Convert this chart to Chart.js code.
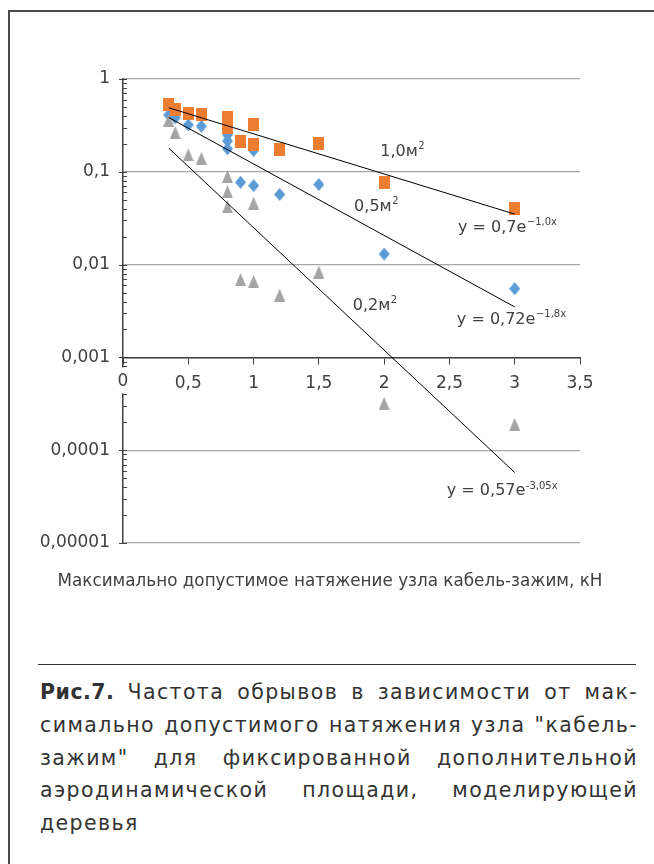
<!DOCTYPE html>
<html><head><meta charset="utf-8">
<script src="https://cdn.jsdelivr.net/npm/chart.js@4.4.1/dist/chart.umd.min.js"></script>
<style>
html,body{margin:0;padding:0;background:#fff;}
body{width:654px;height:864px;position:relative;overflow:hidden;font-family:"DejaVu Sans",sans-serif;}
#frame{position:absolute;left:8px;top:10px;right:-5px;bottom:-5px;border-left:2px solid #4a4a4a;border-top:2px solid #4a4a4a;}
#c{position:absolute;left:0;top:0;}
#xtitle{position:absolute;top:570px;left:0;width:660px;text-align:center;font-size:16.8px;color:#404040;white-space:nowrap;}
#rule{position:absolute;left:38px;top:664px;width:598px;height:0;border-top:1px solid #333;}
#caption{position:absolute;left:40px;top:676px;width:598px;font-family:"DejaVu Sans",sans-serif;font-size:20.5px;line-height:32.75px;color:#333;letter-spacing:1.4px;}
#caption div{text-align:justify;text-align-last:justify;white-space:normal;}
#caption div.last{text-align-last:left;}
</style></head>
<body>
<div id="frame"></div>
<canvas id="c" width="654" height="600"></canvas>
<div id="xtitle">Максимально допустимое натяжение узла кабель-зажим, кН</div>
<div id="rule"></div>
<div id="caption">
<div><b style="letter-spacing:0.5px">Рис.7.</b> Частота обрывов в зависимости от мак-</div>
<div>симально допустимого натяжения узла "кабель-</div>
<div>зажим" для фиксированной дополнительной</div>
<div>аэродинамической площади, моделирующей</div>
<div class="last">деревья</div>
</div>
<script>
// ---- data ----
const xTickValues = [0, 0.5, 1, 1.5, 2, 2.5, 3, 3.5];
const xTickLabels = ['0', '0,5', '1', '1,5', '2', '2,5', '3', '3,5'];
const yTickValues = [1, 0.1, 0.01, 0.001, 0.0001, 0.00001];
const yTickLabels = ['1', '0,1', '0,01', '0,001', '0,0001', '0,00001'];

const seriesNames = ['0,5м²', '1,0м²', '0,2м²'];
const x05 = [0.35, 0.4, 0.5, 0.6, 0.8, 0.8, 0.8, 0.9, 1.0, 1.0, 1.2, 1.5, 2, 3];
const y05 = [0.41, 0.38, 0.32, 0.31, 0.25, 0.215, 0.177, 0.077, 0.17, 0.071, 0.057, 0.073, 0.013, 0.0055];
const x10 = [0.35, 0.4, 0.5, 0.6, 0.8, 0.8, 0.9, 1.0, 1.0, 1.2, 1.5, 2, 3];
const y10 = [0.525, 0.47, 0.42, 0.41, 0.38, 0.30, 0.21, 0.32, 0.195, 0.175, 0.2, 0.076, 0.040];
const x02 = [0.35, 0.4, 0.5, 0.6, 0.8, 0.8, 0.8, 0.9, 1.0, 1.0, 1.2, 1.5, 2, 3];
const y02 = [0.36, 0.265, 0.152, 0.14, 0.089, 0.061, 0.042, 0.0069, 0.046, 0.0066, 0.0047, 0.0083, 0.00032, 0.00019];

const trendX = [0.35, 3];
const trend10 = [0.49, 0.035];
const trend05 = [0.385, 0.0035];
const trend02 = [0.18, 0.0000575];

const labelTexts = [
  {main: '1,0м', sup: '2'},
  {main: '0,5м', sup: '2'},
  {main: '0,2м', sup: '2'},
  {main: 'y = 0,7e', sup: '−1,0x'},
  {main: 'y = 0,72e', sup: '−1,8x'},
  {main: 'y = 0,57e', sup: '-3,05x'}
];
// anchors (data coordinates: left edge, vertical centre)
const labelAnchors = [
  [1.97, 0.164], [1.77, 0.042], [1.76, 0.0036],
  [2.565, 0.025], [2.557, 0.00257], [2.48, 0.0000363]
];

const pts = (xs, ys) => xs.map((x, i) => ({x: x, y: ys[i]}));

const TEXT = '#404040';
const AXIS = '#404040';

function marker(kind, color, w, h) {
  const c = document.createElement('canvas');
  c.width = w; c.height = h;
  const g = c.getContext('2d');
  g.fillStyle = color;
  g.beginPath();
  if (kind === 'rect') { g.rect(0, 0, w, h); }
  else if (kind === 'diamond') { g.moveTo(w / 2, 0); g.lineTo(w, h / 2); g.lineTo(w / 2, h); g.lineTo(0, h / 2); g.closePath(); }
  else { g.moveTo(w / 2, 0); g.lineTo(w, h); g.lineTo(0, h); g.closePath(); }
  g.fill();
  return c;
}
const mkSquare = marker('rect', '#ED7D31', 11, 13);
const mkDiamond = marker('diamond', '#5B9BD5', 11, 13);
const mkTriangle = marker('tri', '#A5A5A5', 11, 13);

const decor = {
  id: 'decor',
  afterDatasetsDraw(chart) {
    const ctx = chart.ctx, xs = chart.scales.x, ys = chart.scales.y;
    const left = chart.chartArea.left;
    ctx.save();
    ctx.strokeStyle = AXIS; ctx.lineWidth = 1;
    for (let e = -5; e <= 0; e++) {
      const py = Math.round(ys.getPixelForValue(Math.pow(10, e))) + 0.5;
      ctx.beginPath(); ctx.moveTo(left - 4, py); ctx.lineTo(left + 4, py); ctx.stroke();
      if (e === 0) continue;
      for (let k = 2; k <= 9; k++) {
        const p = Math.round(ys.getPixelForValue(k * Math.pow(10, e))) + 0.5;
        ctx.beginPath(); ctx.moveTo(left, p); ctx.lineTo(left + 4, p); ctx.stroke();
      }
    }
    ctx.fillStyle = TEXT;
    ctx.textBaseline = 'middle';
    ctx.textAlign = 'left';
    labelTexts.forEach((t, i) => {
      const px = xs.getPixelForValue(labelAnchors[i][0]);
      const py = ys.getPixelForValue(labelAnchors[i][1]);
      ctx.font = '16px "DejaVu Sans"';
      ctx.fillText(t.main, px, py);
      const w = ctx.measureText(t.main).width;
      ctx.font = '10px "DejaVu Sans"';
      ctx.fillText(t.sup, px + w + 0.5, py - 5);
    });
    // gap in the vertical axis behind the "0" label
    const x0 = xs.getPixelForValue(0);
    const yAxisPix = ys.getPixelForValue(0.001);
    ctx.fillStyle = '#fff';
    ctx.fillRect(x0 - 8, yAxisPix + 10, 16, 26);
    ctx.fillStyle = TEXT;
    ctx.textAlign = 'center';
    ctx.textBaseline = 'top';
    ctx.font = '17px "DejaVu Sans"';
    ctx.fillText(xTickLabels[0], x0, yAxisPix + 16);
    ctx.restore();
  }
};

new Chart(document.getElementById('c'), {
  type: 'scatter',
  data: {
    datasets: [
      {type: 'line', data: pts(trendX, trend10), borderColor: '#000', borderWidth: 1, pointRadius: 0, fill: false},
      {type: 'line', data: pts(trendX, trend05), borderColor: '#000', borderWidth: 1, pointRadius: 0, fill: false},
      {type: 'line', data: pts(trendX, trend02), borderColor: '#000', borderWidth: 1, pointRadius: 0, fill: false},
      {label: seriesNames[2], data: pts(x02, y02), pointStyle: mkTriangle, pointRadius: 7},
      {label: seriesNames[1], data: pts(x10, y10), pointStyle: mkSquare, pointRadius: 7},
      {label: seriesNames[0], data: pts(x05, y05), pointStyle: mkDiamond, pointRadius: 7}
    ]
  },
  options: {
    responsive: false,
    animation: false,
    devicePixelRatio: 1,
    layout: {padding: {left: 0, top: 79, right: 74, bottom: 57}},
    plugins: {legend: {display: false}, tooltip: {enabled: false}},
    scales: {
      x: {
        type: 'linear', min: 0, max: 3.5,
        position: {y: 0.001},
        afterBuildTicks: s => { s.ticks = xTickValues.map(v => ({value: v})); },
        ticks: {
          callback: v => (v === 0 ? '' : xTickLabels[xTickValues.indexOf(v)]),
          color: TEXT, font: {family: 'DejaVu Sans', size: 17}, padding: 10, maxRotation: 0, autoSkip: false
        },
        grid: {drawOnChartArea: false, drawTicks: true, tickLength: 6, color: AXIS, tickColor: AXIS},
        border: {color: AXIS, width: 1.5}
      },
      y: {
        type: 'logarithmic', min: 0.00001, max: 1,
        afterBuildTicks: s => { s.ticks = yTickValues.map(v => ({value: v})); },
        afterFit: s => { s.width = 123; },
        ticks: {
          callback: v => yTickLabels[yTickValues.indexOf(v)],
          color: TEXT, font: {family: 'DejaVu Sans', size: 17}, padding: 13, autoSkip: false
        },
        grid: {color: '#a6a6a6', lineWidth: 1.2, drawTicks: false},
        border: {color: AXIS, width: 1.5}
      }
    }
  },
  plugins: [decor]
});
</script>
</body></html>
